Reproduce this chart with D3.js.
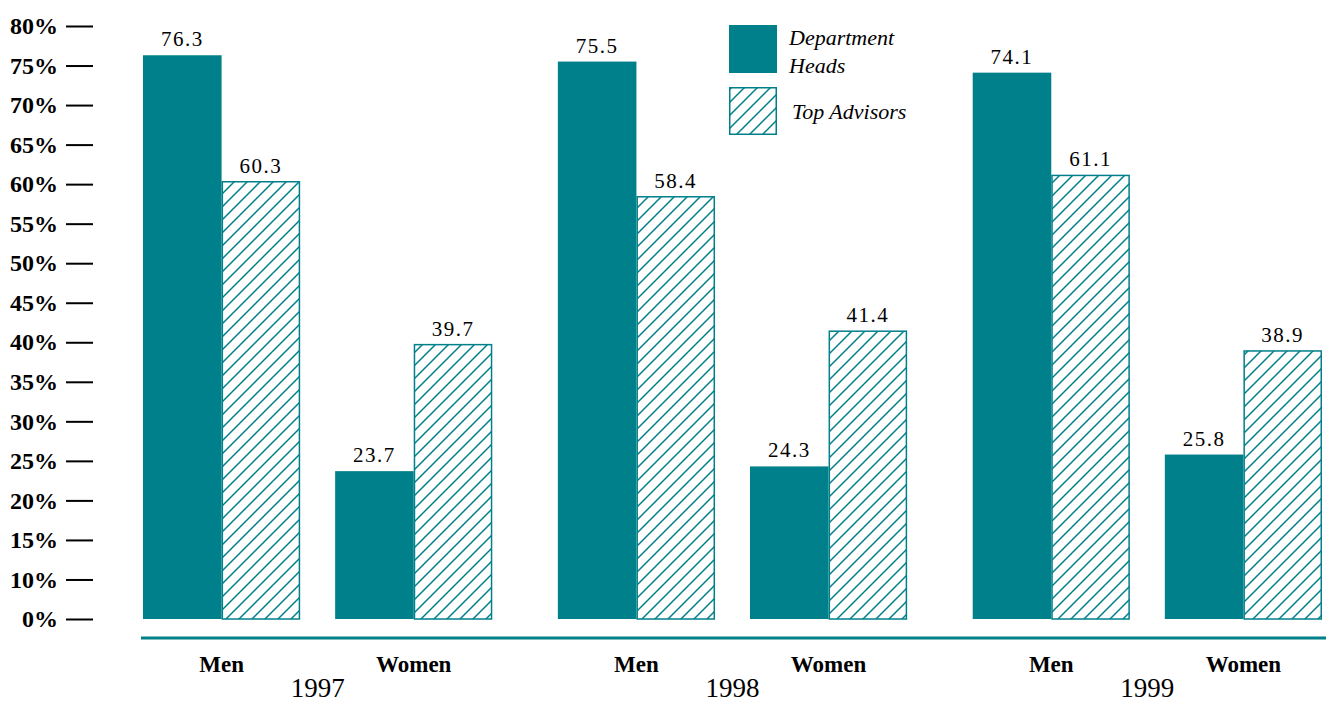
<!DOCTYPE html>
<html>
<head>
<meta charset="utf-8">
<script src="https://cdn.jsdelivr.net/npm/d3@7"></script>
<style>
  body { margin: 0; background: #fff; }
  text { font-family: "Liberation Serif", "DejaVu Serif", serif; }
</style>
</head>
<body>
<div class="chart-area"></div>
<script>
var years = ["1997", "1998", "1999"],
    genders = ["Men", "Women"],
    series = ["Department Heads", "Top Advisors"],
    deptHeads = [ [76.3, 23.7], [75.5, 24.3], [74.1, 25.8] ],
    topAdvisors = [ [60.3, 39.7], [58.4, 41.4], [61.1, 38.9] ],
    yTicks = [0, 10, 15, 20, 25, 30, 35, 40, 45, 50, 55, 60, 65, 70, 75, 80];

var teal = "#00808a",
    chartWidth = 1329,
    chartHeight = 705,
    yBottom = 619,
    yTop = 26;

var svg = d3.select(".chart-area")
            .append("svg")
            .attr("width", chartWidth)
            .attr("height", chartHeight);

// hatch pattern for the top advisors bars
var defs = svg.append("defs");
defs.append("pattern")
    .attr("id", "hatch")
    .attr("patternUnits", "userSpaceOnUse")
    .attr("width", 13)
    .attr("height", 13)
  .append("path")
    .attr("d", "M-1,1 l2,-2 M0,13 l13,-13 M12,14 l2,-2")
    .attr("stroke", teal)
    .attr("stroke-width", 1.5);

// the original axis spaces its labels evenly (no 5% step), so the scale is piecewise
var step = (yBottom - yTop) / (yTicks.length - 1);
var y = d3.scaleLinear()
          .domain(yTicks)
          .range(yTicks.map(function(d, i) { return yBottom - i * step; }));

var x0 = d3.scaleBand().domain(years).range([143, 1322]).paddingInner(0.158),
    x1 = d3.scaleBand().domain(genders).range([0, x0.bandwidth()]).paddingInner(0.182),
    x2 = d3.scaleBand().domain(series).range([0, x1.bandwidth()]);

// flatten into one row per bar
var rows = [];
years.forEach(function(yr, i) {
  genders.forEach(function(g, j) {
    rows.push({ year: yr, gender: g, series: series[0], value: deptHeads[i][j] });
    rows.push({ year: yr, gender: g, series: series[1], value: topAdvisors[i][j] });
  });
});

function barX(d) { return x0(d.year) + x1(d.gender) + x2(d.series); }

// y axis
var yAxis = d3.axisLeft(y)
              .tickValues(yTicks)
              .tickFormat(function(d) { return d + "%"; })
              .tickSizeInner(27)
              .tickSizeOuter(0)
              .tickPadding(8);

var gy = svg.append("g")
            .attr("transform", "translate(93,0)")
            .attr("font-family", null)
            .call(yAxis);
gy.select(".domain").remove();
gy.selectAll(".tick line").attr("stroke", "#000").attr("stroke-width", 2);
gy.selectAll(".tick text")
  .attr("fill", "#000")
  .style("font-family", "'Liberation Serif', serif")
  .style("font-size", "24px")
  .style("font-weight", "bold");

// bars
svg.selectAll(".bar")
   .data(rows)
   .enter()
   .append("rect")
   .attr("class", "bar")
   .attr("x", function(d) { return d.series === series[0] ? barX(d) : barX(d) + 0.75; })
   .attr("y", function(d) { return y(d.value); })
   .attr("width", function(d) { return d.series === series[0] ? x2.bandwidth() : x2.bandwidth() - 1.5; })
   .attr("height", function(d) { return y(0) - y(d.value); })
   .attr("fill", function(d) { return d.series === series[0] ? teal : "url(#hatch)"; })
   .attr("stroke", function(d) { return d.series === series[0] ? "none" : teal; })
   .attr("stroke-width", 1.5);

// value labels
svg.selectAll(".value")
   .data(rows)
   .enter()
   .append("text")
   .attr("class", "value")
   .attr("x", function(d) { return barX(d) + x2.bandwidth() / 2; })
   .attr("y", function(d) { return y(d.value) - 9; })
   .attr("text-anchor", "middle")
   .style("font-size", "21px")
   .style("letter-spacing", "1.5px")
   .text(function(d) { return d.value.toFixed(1); });

// baseline
svg.append("line")
   .attr("x1", 141).attr("x2", 1326)
   .attr("y1", 638).attr("y2", 638)
   .attr("stroke", teal)
   .attr("stroke-width", 3);

// gender labels
years.forEach(function(yr) {
  svg.selectAll(".gender-" + yr)
     .data(genders)
     .enter()
     .append("text")
     .attr("x", function(g) { return x0(yr) + x1(g) + x1.bandwidth() / 2; })
     .attr("y", 672)
     .attr("text-anchor", "middle")
     .style("font-size", "23px")
     .style("font-weight", "bold")
     .text(function(g) { return g; });
});

// year labels
svg.selectAll(".year")
   .data(years)
   .enter()
   .append("text")
   .attr("class", "year")
   .attr("x", function(d) { return x0(d) + x0.bandwidth() / 2; })
   .attr("y", 697)
   .attr("text-anchor", "middle")
   .style("font-size", "27px")
   .text(function(d) { return d; });

// legend
var legend = svg.append("g");
legend.append("rect")
      .attr("x", 729).attr("y", 25)
      .attr("width", 48).attr("height", 48)
      .attr("fill", teal);
legend.append("rect")
      .attr("x", 729.75).attr("y", 87.75)
      .attr("width", 46.5).attr("height", 46.5)
      .attr("fill", "url(#hatch)")
      .attr("stroke", teal)
      .attr("stroke-width", 1.5);
legend.append("text")
      .attr("x", 789).attr("y", 45)
      .style("font-size", "22px")
      .style("font-style", "italic")
      .text("Department");
legend.append("text")
      .attr("x", 789).attr("y", 73)
      .style("font-size", "22px")
      .style("font-style", "italic")
      .text("Heads");
legend.append("text")
      .attr("x", 792).attr("y", 119)
      .style("font-size", "22px")
      .style("font-style", "italic")
      .text(series[1]);
</script>
</body>
</html>
